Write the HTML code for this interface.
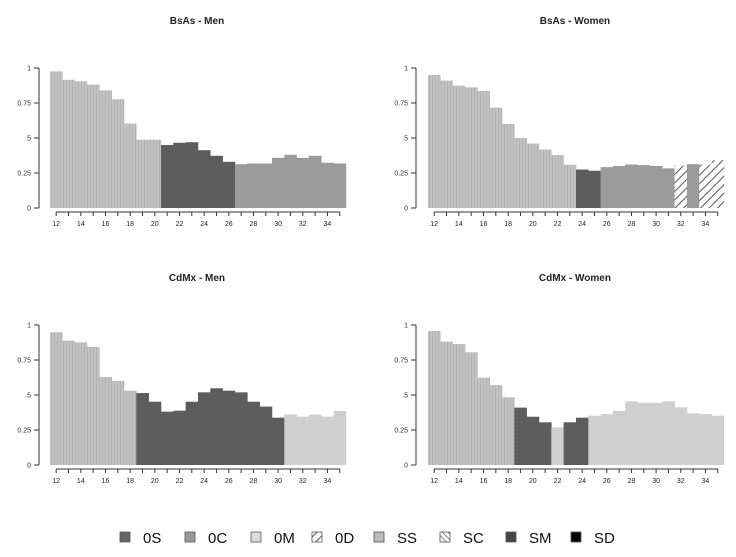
<!DOCTYPE html>
<html><head><meta charset="utf-8">
<style>
html,body{margin:0;padding:0;background:#fff;}
svg{display:block;font-family:"Liberation Sans",Arial,sans-serif;}
</style></head>
<body>
<svg id="chart" width="736" height="557" viewBox="0 0 736 557" xmlns="http://www.w3.org/2000/svg">
<defs>
<pattern id="pSS" width="3" height="3" patternUnits="userSpaceOnUse"><rect width="3" height="3" fill="#c2c2c2"/><rect width="1" height="3" fill="#b3b3b3"/></pattern>
<pattern id="pSM" width="4" height="4" patternUnits="userSpaceOnUse"><rect width="4" height="4" fill="#5c5c5c"/><rect x="1" y="1" width="1" height="1" fill="#6a6a6a"/></pattern>
<pattern id="p0C" width="4" height="4" patternUnits="userSpaceOnUse"><rect width="4" height="4" fill="#9c9c9c"/><rect x="2" y="2" width="1" height="1" fill="#8c8c8c"/></pattern>
<pattern id="p0M" width="4" height="4" patternUnits="userSpaceOnUse"><rect width="4" height="4" fill="#d0d0d0"/><rect x="1" y="1" width="1" height="1" fill="#c4c4c4"/></pattern>
<pattern id="p0D" width="6" height="6" patternUnits="userSpaceOnUse" patternTransform="rotate(45)"><rect width="6" height="6" fill="#fff"/><rect width="0.9" height="6" fill="#444"/></pattern>
<pattern id="pSC" width="4" height="4" patternUnits="userSpaceOnUse" patternTransform="rotate(-45)"><rect width="4" height="4" fill="#fff"/><rect width="0.8" height="4" fill="#666"/></pattern>
</defs>
</svg>
<script>
const ages = [12,13,14,15,16,17,18,19,20,21,22,23,24,25,26,27,28,29,30,31,32,33,34,35];
const yTicks = [0,0.25,0.5,0.75,1];
const yTickLabels = ["0","0.25",".5","0.75","1"];
const xTickLabels = [12,14,16,18,20,22,24,26,28,30,32,34];
const bsasMenValues = [.976,.916,.905,.881,.84,.777,.603,.487,.487,.45,.466,.47,.413,.373,.33,.313,.318,.318,.358,.38,.358,.373,.323,.318];
const bsasMenStates = ["SS","SS","SS","SS","SS","SS","SS","SS","SS","SM","SM","SM","SM","SM","SM","0C","0C","0C","0C","0C","0C","0C","0C","0C"];
const bsasWomenValues = [.95,.91,.874,.862,.836,.717,.6,.5,.46,.418,.378,.309,.275,.266,.292,.3,.311,.306,.3,.283,.302,.313,.311,.342];
const bsasWomenStates = ["SS","SS","SS","SS","SS","SS","SS","SS","SS","SS","SS","SS","SM","SM","0C","0C","0C","0C","0C","0C","0D","0C","0D","0D"];
const cdmxMenValues = [.948,.888,.876,.843,.629,.6,.531,.514,.452,.381,.388,.452,.519,.548,.531,.519,.452,.417,.338,.362,.345,.36,.345,.386];
const cdmxMenStates = ["SS","SS","SS","SS","SS","SS","SS","SM","SM","SM","SM","SM","SM","SM","SM","SM","SM","SM","SM","0M","0M","0M","0M","0M"];
const cdmxWomenValues = [.957,.881,.864,.805,.624,.571,.483,.41,.345,.305,.269,.305,.338,.352,.364,.386,.455,.445,.445,.455,.412,.369,.364,.352];
const cdmxWomenStates = ["SS","SS","SS","SS","SS","SS","SS","SM","SM","SM","0M","SM","SM","0M","0M","0M","0M","0M","0M","0M","0M","0M","0M","0M"];
const legendLabels = ["0S","0C","0M","0D","SS","SC","SM","SD"];
const legendFills = ["#666","#999","#ddd","url(#p0D)","#bbb","url(#pSC)","#444","#000"];

const svg = document.getElementById('chart');
const NS = 'http://www.w3.org/2000/svg';
function mk(tag, attrs, parent){
  const e = document.createElementNS(NS, tag);
  for (const k in attrs) e.setAttribute(k, attrs[k]);
  (parent||svg).appendChild(e);
  return e;
}
const fills = {SS:'url(#pSS)', SM:'url(#pSM)', '0C':'url(#p0C)', '0M':'url(#p0M)', '0D':'url(#p0D)'};

function panel(title, key, values, states, axX, x0, yTop, yBot){
  const g = mk('g', {});
  
  
  const bw = 12.33;
  const xS = i => x0 + i * bw;
  const yS = v => yBot - v * (yBot - yTop);
  const t = mk('text', {x: (x0 + xS(24)) / 2 - 1, y: yTop - 44, 'text-anchor': 'middle', 'font-size': 10, 'font-weight': 'bold', fill: '#222'}, g);
  t.textContent = title;
  
  
  values.forEach((v, i) => {
    const r = mk('rect', {x: xS(i), y: yS(v), width: bw + 0.3, height: yBot - yS(v), fill: fills[states[i]]}, g);
    
    
  });
  const ya = mk('line', {x1: axX, x2: axX, y1: yS(1), y2: yS(0), stroke: '#333', 'stroke-width': 1}, g);
  
  
  yTicks.forEach((v, i) => {
    mk('line', {x1: axX - 5, x2: axX, y1: yS(v), y2: yS(v), stroke: '#333'}, g);
    const l = mk('text', {x: axX - 8, y: yS(v) + 2.5, 'text-anchor': 'end', 'font-size': 7, fill: '#333'}, g);
    l.textContent = yTickLabels[i];
    
    
  });
  const axY = yBot + 4;
  const cx = i => xS(i) + bw / 2;
  const xa = mk('line', {x1: cx(0), x2: cx(23), y1: axY, y2: axY, stroke: '#333'}, g);
  
  
  ages.forEach((a, i) => {
    mk('line', {x1: cx(i), x2: cx(i), y1: axY, y2: axY + 4, stroke: '#333'}, g);
  });
  xTickLabels.forEach(a => {
    const i = ages.indexOf(a);
    const l = mk('text', {x: cx(i), y: axY + 14, 'text-anchor': 'middle', 'font-size': 7, fill: '#223'}, g);
    l.textContent = a;
    
    
  });
}
panel('BsAs - Men', 'bsas-men', bsasMenValues, bsasMenStates, 39, 50, 68, 208);
panel('BsAs - Women', 'bsas-women', bsasWomenValues, bsasWomenStates, 416, 428, 68, 208);
panel('CdMx - Men', 'cdmx-men', cdmxMenValues, cdmxMenStates, 39, 50, 325, 465);
panel('CdMx - Women', 'cdmx-women', cdmxWomenValues, cdmxWomenStates, 416, 428, 325, 465);

const lg = mk('g', {});


const sqX = [120,185,251,312,374,440,506,571];
legendLabels.forEach((lab, i) => {
  const s = mk('rect', {x: sqX[i], y: 532, width: 10, height: 10, fill: legendFills[i], stroke: '#555', 'stroke-width': 0.8}, lg);
  
  
  const t = mk('text', {x: sqX[i] + 23, y: 543, 'font-size': 15, fill: '#111'}, lg);
  t.textContent = lab;
  
  
});
</script>
</body></html>
